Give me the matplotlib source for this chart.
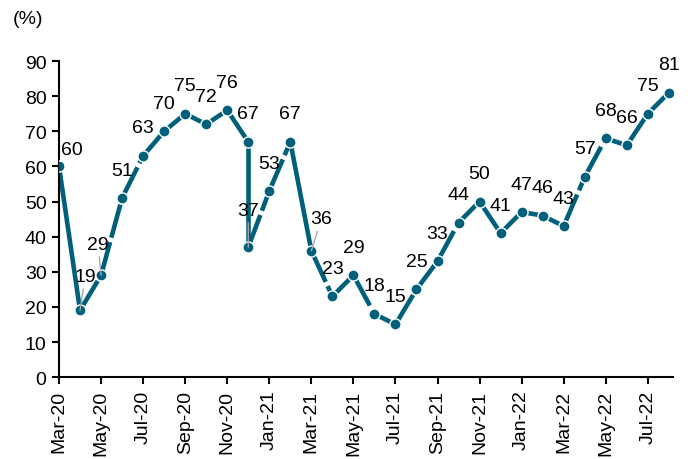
import matplotlib
matplotlib.use("Agg")
import matplotlib.pyplot as plt
import numpy as np

plt.rcParams['font.family'] = ['Liberation Sans', 'DejaVu Sans']

# ---- data ----
months = ["2020-03", "2020-04", "2020-05", "2020-06", "2020-07", "2020-08", "2020-09",
          "2020-10", "2020-11", "2020-12", "2020-12",
          "2021-01", "2021-02", "2021-03", "2021-04", "2021-05", "2021-06", "2021-07",
          "2021-08", "2021-09", "2021-10", "2021-11", "2021-12",
          "2022-01", "2022-02", "2022-03", "2022-04", "2022-05", "2022-06", "2022-07", "2022-08"]
values = [60, 19, 29, 51, 63, 70, 75, 72, 76, 67, 37,
          53, 67, 36, 23, 29, 18, 15, 25, 33, 44, 50, 41,
          47, 46, 43, 57, 68, 66, 75, 81]
tick_labels = ["Mar-20", "May-20", "Jul-20", "Sep-20", "Nov-20", "Jan-21", "Mar-21",
               "May-21", "Jul-21", "Sep-21", "Nov-21", "Jan-22", "Mar-22", "May-22", "Jul-22"]

# month index relative to Mar-2020
def month_index(s):
    y, m = s.split("-")
    return (int(y) - 2020) * 12 + int(m) - 3

x = np.array([month_index(m) for m in months], dtype=float)
y = np.array(values, dtype=float)

color = '#005f7a'
FS = 14
fig = plt.figure(figsize=(6.91, 4.60), dpi=100)
ax = fig.add_axes([0.0854, 0.178, 0.974 - 0.0854, 0.865 - 0.178])

# segments: long jumps solid, others long-dashed
for i in range(len(x) - 1):
    seg_x = x[i:i + 2]
    seg_y = y[i:i + 2]
    if abs(seg_y[1] - seg_y[0]) >= 25:
        ax.plot(seg_x, seg_y, color=color, lw=3.3, solid_capstyle='butt', zorder=2)
    else:
        ax.plot(seg_x, seg_y, color=color, lw=3.3, linestyle=(0, (7.5, 1.0)),
                dash_capstyle='butt', zorder=2)
ax.plot(x, y, linestyle='none', marker='o', markersize=8, markerfacecolor=color,
        markeredgecolor='white', markeredgewidth=1.0, zorder=3)

# labels
special = {0: (13, 17), 1: (5, 34), 2: (-3, 31), 10: (0, 37), 13: (10, 32)}
leaders = {1, 2, 10, 13}
for i, (xi, yi) in enumerate(zip(x, y)):
    dx, dy = special.get(i, (0, 28))
    kw = {}
    if i in leaders:
        kw['arrowprops'] = dict(arrowstyle='-', color='#a6a6a6', lw=1.0,
                                shrinkA=1, shrinkB=0)
    ax.annotate(f"{values[i]}", xy=(xi, yi), xytext=(dx, dy), textcoords='offset pixels',
                ha='center', va='center', fontsize=FS, color='black', zorder=4, **kw)

ax.set_xlim(0, 29.2)
ax.set_ylim(0, 90)
ax.set_yticks(np.arange(0, 91, 10))
ax.set_xticks(np.arange(0, 29, 2))
ax.set_xticklabels(tick_labels, rotation=90)
ax.tick_params(axis='both', labelsize=FS, direction='out', length=5, width=1.5,
               color='black', pad=4)
for s in ['top', 'right']:
    ax.spines[s].set_visible(False)
for s in ['left', 'bottom']:
    ax.spines[s].set_linewidth(1.5)
    ax.spines[s].set_color('black')

fig.text(0.019, 0.957, "(%)", fontsize=FS, ha='left', va='center')

fig.savefig("out.png", dpi=100)
